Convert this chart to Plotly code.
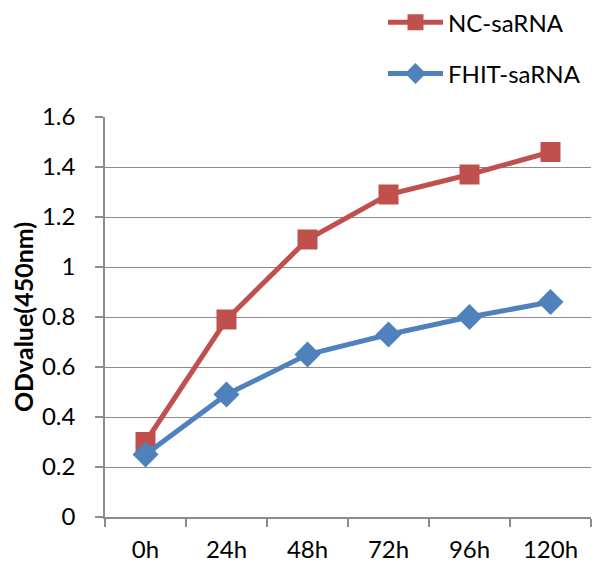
import plotly.graph_objects as go

categories = ["0h", "24h", "48h", "72h", "96h", "120h"]
nc_values = [0.30, 0.79, 1.11, 1.29, 1.37, 1.46]
fhit_values = [0.25, 0.49, 0.65, 0.73, 0.80, 0.86]
y_ticks = [0, 0.2, 0.4, 0.6, 0.8, 1, 1.2, 1.4, 1.6]
y_tick_labels = ["0", "0.2", "0.4", "0.6", "0.8", "1", "1.2", "1.4", "1.6"]

RED = "#C0504D"
BLUE = "#4F81BD"
FONT = "Lato, Open Sans, sans-serif"

fig = go.Figure()
fig.add_trace(go.Scatter(
    x=categories, y=nc_values, name="NC-saRNA", mode="lines+markers",
    line=dict(color=RED, width=5),
    marker=dict(symbol="square", size=20, color=RED),
    legendgroup="a",
))
fig.add_trace(go.Scatter(
    x=categories, y=fhit_values, name="FHIT-saRNA", mode="lines+markers",
    line=dict(color=BLUE, width=5),
    marker=dict(symbol="diamond", size=20, color=BLUE),
    legendgroup="b",
))

fig.update_layout(
    width=600, height=571,
    margin=dict(l=97, r=17, t=109, b=62, autoexpand=False),
    paper_bgcolor="white", plot_bgcolor="white",
    font=dict(family=FONT, size=24, color="#000000"),
    legend=dict(
        x=0.572, y=1.292, xref="paper", yref="paper",
        xanchor="left", yanchor="top",
        font=dict(size=24, family=FONT),
        tracegroupgap=17, itemwidth=55,
        bgcolor="rgba(0,0,0,0)",
    ),
    showlegend=True,
)
fig.update_xaxes(
    type="category", tickson="boundaries",
    showline=True, linecolor="#8c8c8c", linewidth=1.5,
    ticks="outside", ticklen=8, tickcolor="#8c8c8c", tickwidth=1.5,
    showgrid=False, tickfont=dict(size=24, family=FONT),
    tickangle=0, ticklabelstandoff=10,
    range=[-0.5, 5.5],
)
fig.update_yaxes(
    range=[0, 1.6], tickvals=y_ticks, ticktext=y_tick_labels,
    showline=True, linecolor="#8c8c8c", linewidth=1.5,
    ticks="outside", ticklen=8, tickcolor="#8c8c8c", tickwidth=1.5,
    showgrid=True, gridcolor="#8c8c8c", gridwidth=1.2,
    zeroline=False, ticklabelstandoff=15,
    tickfont=dict(size=24, family=FONT),
    title=dict(text="<b>ODvalue(450nm)</b>", font=dict(size=25, family=FONT), standoff=5),
)

fig.write_html("out.html")
